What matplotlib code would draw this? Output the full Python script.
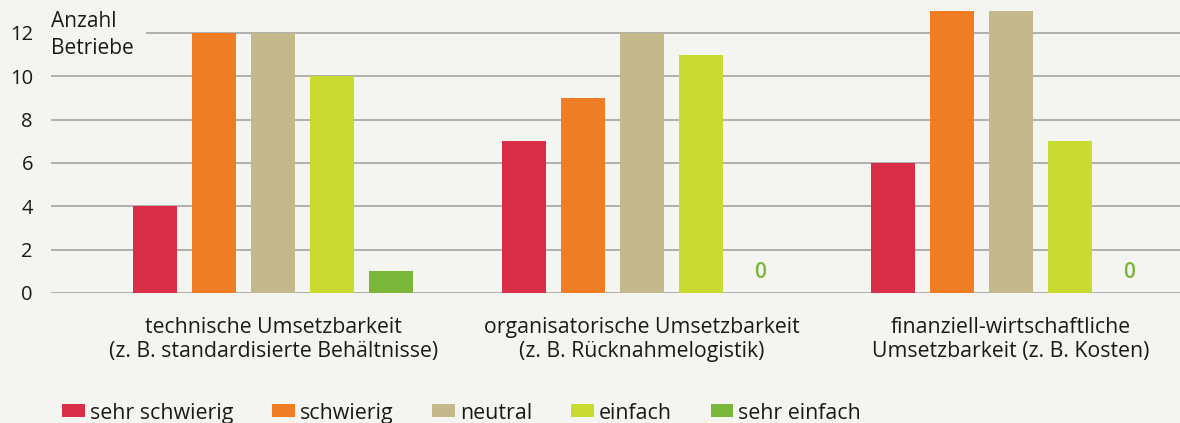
import matplotlib
matplotlib.use("Agg")
import matplotlib.pyplot as plt
import numpy as np
from matplotlib.patches import Patch

# data
categories = [
    "technische Umsetzbarkeit\n(z. B. standardisierte Behältnisse)",
    "organisatorische Umsetzbarkeit\n(z. B. Rücknahmelogistik)",
    "finanziell-wirtschaftliche\nUmsetzbarkeit (z. B. Kosten)",
]
series_names = ["sehr schwierig", "schwierig", "neutral", "einfach", "sehr einfach"]
sehr_schwierig = [4, 7, 6]
schwierig = [12, 9, 13]
neutral = [12, 12, 13]
einfach = [10, 11, 7]
sehr_einfach = [1, 0, 0]
y_ticks = [0, 2, 4, 6, 8, 10, 12]

colors = ["#d92d48", "#ef7d24", "#c4b98c", "#c9da30", "#7ab639"]
bg = "#f4f4f0"
grid_color = "#b0b0ac"
text_color = "#1a1a1a"

plt.rcParams["font.family"] = ["Open Sans", "DejaVu Sans"]

fig = plt.figure(figsize=(11.8, 4.23), dpi=100, facecolor=bg)
ax = fig.add_axes([51 / 1180, 1 - 293 / 423, 1 - 51 / 1180, 293 / 423])
ax.set_facecolor(bg)

values = [sehr_schwierig, schwierig, neutral, einfach, sehr_einfach]
x = np.arange(len(categories))
width = 44 / 369
step = 59 / 369
for i, (name, vals, color) in enumerate(zip(series_names, values, colors)):
    pos = x + (i - 2) * step
    ax.bar(pos, vals, width=width, color=color, label=name, zorder=2)
    for xp, v in zip(pos, vals):
        if v == 0:
            ax.annotate("0", xy=(xp, 0), xytext=(0, 14.5), textcoords="offset points",
                        ha="center", va="center", color=color, fontsize=15,
                        fontweight="semibold")

ax.set_xlim(-0.602, 2.458)
ax.set_ylim(0, 13.52)
ax.set_yticks(y_ticks)
ax.yaxis.grid(True, color=grid_color, linewidth=1.4, zorder=0)
ax.set_axisbelow(True)
ax.tick_params(axis="y", length=0, pad=13, labelsize=14.5, labelcolor=text_color)
ax.set_xticks(x)
ax.set_xticklabels(categories, fontsize=15.3, color=text_color, linespacing=1.22)
ax.tick_params(axis="x", length=0, pad=17)
for spine in ax.spines.values():
    spine.set_visible(False)

fig.text(51 / 1180, 1 - 11 / 423, "Anzahl\nBetriebe", ha="left", va="top", fontsize=15,
         color=text_color, linespacing=1.37, zorder=3,
         bbox=dict(facecolor=bg, edgecolor="none", pad=9))

handles = [Patch(facecolor=c, label=n) for c, n in zip(colors, series_names)]
fig.legend(handles=handles, loc="center left", bbox_to_anchor=(43 / 1180, 10 / 423),
           ncol=5, frameon=False, fontsize=15.4, handlelength=1.07, handleheight=0.56,
           handletextpad=0.22, columnspacing=1.82, labelcolor=text_color)

fig.savefig("out.png", dpi=100, facecolor=bg)
